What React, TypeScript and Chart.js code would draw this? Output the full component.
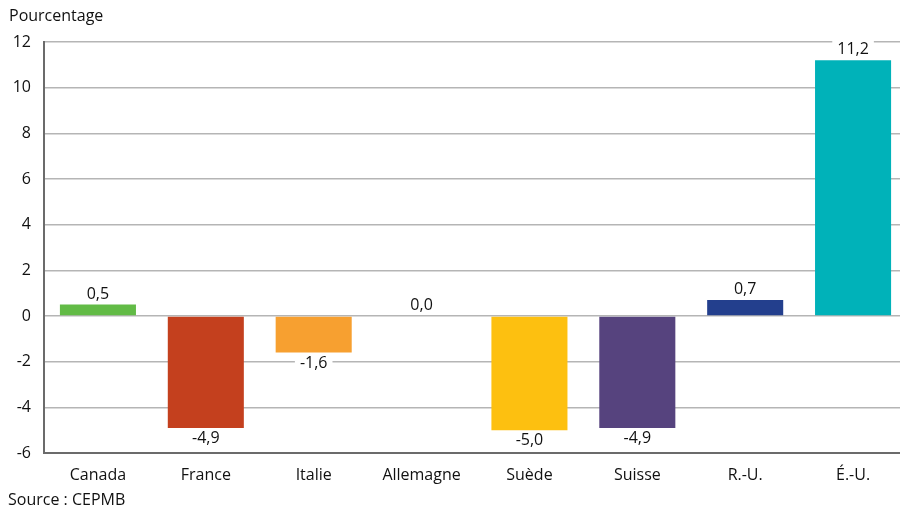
import React, { useEffect, useRef } from "react";
import { Chart, registerables } from "chart.js";

Chart.register(...registerables);

// Écart de prix par pays (en pourcentage)
const countries = ["Canada", "France", "Italie", "Allemagne", "Suède", "Suisse", "R.-U.", "É.-U."];
const values = [0.5, -4.9, -1.6, 0.0, -5.0, -4.9, 0.7, 11.2];
const barColors = ["#62bb46", "#c4401e", "#f7a030", "#9a9a9a", "#fdc010", "#56437e", "#233f8d", "#00b2b9"];
const yTicks = [-6, -4, -2, 0, 2, 4, 6, 8, 10, 12];

const FONT = "'Open Sans', 'Noto Sans', sans-serif";
const TEXT = "#111111";

const fmt = (v: number) => v.toFixed(1).replace(".", ",");

// Étiquettes de valeur avec fond blanc au-dessus / au-dessous des barres
const valueLabels = {
  id: "valueLabels",
  afterDatasetsDraw(chart: any) {
    const ctx = chart.ctx;
    const meta = chart.getDatasetMeta(0);
    ctx.save();
    ctx.font = `16px ${FONT}`;
    ctx.textAlign = "center";
    ctx.textBaseline = "alphabetic";
    meta.data.forEach((el: any, i: number) => {
      const v = values[i];
      const text = fmt(v);
      const w = ctx.measureText(text).width;
      const baseY = v >= 0 ? el.y - 6 : el.y + 15;
      ctx.fillStyle = "#ffffff";
      ctx.fillRect(el.x - w / 2 - 5, baseY - 14, w + 10, 18);
      ctx.fillStyle = TEXT;
      ctx.fillText(text, el.x, baseY);
    });
    ctx.restore();
  },
};

// Titre de l'axe et source
const annotations = {
  id: "annotations",
  afterDraw(chart: any) {
    const ctx = chart.ctx;
    ctx.save();
    ctx.fillStyle = TEXT;
    ctx.font = `16px ${FONT}`;
    ctx.textAlign = "left";
    ctx.textBaseline = "alphabetic";
    ctx.fillText("Pourcentage", 9, 21);
    ctx.fillText("Source : CEPMB", 8, 505);
    ctx.restore();
  },
};

export default function App() {
  const canvasRef = useRef<HTMLCanvasElement | null>(null);

  useEffect(() => {
    document.body.style.margin = "0";
    const canvas = canvasRef.current;
    if (!canvas) return;
    const chart = new Chart(canvas, {
      type: "bar",
      data: {
        labels: countries,
        datasets: [
          {
            data: values,
            backgroundColor: barColors,
            borderWidth: 0,
            barPercentage: 0.705,
            categoryPercentage: 1,
          },
        ],
      },
      options: {
        animation: false,
        responsive: false,
        maintainAspectRatio: false,
        layout: { padding: { top: 42, right: 0, bottom: 0, left: 0 } },
        plugins: {
          legend: { display: false },
          tooltip: { enabled: false },
          title: { display: false },
        },
        scales: {
          x: {
            grid: { display: false },
            border: { display: true, color: "#6b6b6b", width: 2 },
            ticks: {
              color: TEXT,
              font: { family: FONT, size: 16 },
              padding: 5,
              maxRotation: 0,
            },
            afterFit(scale: any) {
              scale.height = 57;
            },
          },
          y: {
            min: -6,
            max: 12,
            afterBuildTicks(scale: any) {
              scale.ticks = yTicks.map((v) => ({ value: v }));
            },
            grid: { color: "#b5b5b5", lineWidth: 1.5, drawTicks: false },
            border: { display: true, color: "#6b6b6b", width: 2 },
            ticks: {
              color: TEXT,
              font: { family: FONT, size: 16 },
              padding: 13,
              callback: (v: any) => String(v),
            },
            afterFit(scale: any) {
              scale.width = 44;
            },
          },
        },
      },
      plugins: [valueLabels, annotations],
    });
    return () => chart.destroy();
  }, []);

  return (
    <div style={{ width: 900, height: 510, overflow: "hidden", position: "relative", background: "#fff" }}>
      <canvas ref={canvasRef} width={907} height={510} style={{ display: "block" }} />
    </div>
  );
}
